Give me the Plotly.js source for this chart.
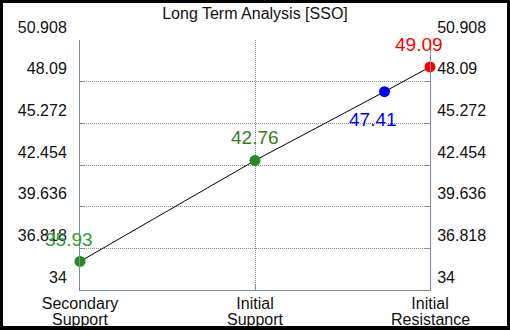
<!DOCTYPE html>
<html>
<head>
<meta charset="utf-8">
<script src="https://cdn.plot.ly/plotly-3.0.1.min.js"></script>
<style>
  html, body { margin: 0; padding: 0; background: #000; width: 510px; height: 330px; overflow: hidden; }
  #chart { position: absolute; left: 3px; top: 3px; width: 504px; height: 323px; background: #fff; }
</style>
</head>
<body>
<div id="chart"></div>
<script>
const catLine1 = ['Secondary', 'Initial', 'Initial'];
const catLine2 = ['Support', 'Support', 'Resistance'];
const catPos = [0, 1, 2];
const pointX = [0, 1, 1.74, 2];
const pointY = [35.93, 42.76, 47.41, 49.09];
const pointLabels = ['35.93', '42.76', '47.41', '49.09'];
const markerColors = ['#228B22', '#228B22', '#0000FF', '#FF0000'];
const labelColors = ['#33a033', '#3b7d1e', '#0000FF', '#FF0000'];
const yTicks = [34, 36.818, 39.636, 42.454, 45.272, 48.09, 50.908];
const yTickText = ['34', '36.818', '39.636', '42.454', '45.272', '48.09', '50.908'];

const labelShift = [[-11, 22], [0, 23], [-12, -28], [-11, 22]];
const axisColor = '#7f8ca6';
const font = 'Liberation Sans, Arial, sans-serif';

const traces = [
  { x: pointX, y: pointY, mode: 'lines', line: { color: '#000', width: 1 }, hoverinfo: 'skip', showlegend: false, cliponaxis: false },
  { x: pointX, y: pointY, mode: 'markers', marker: { color: markerColors, size: 11 }, showlegend: false, cliponaxis: false },
  { x: pointX, y: pointY, yaxis: 'y2', mode: 'markers', marker: { opacity: 0 }, hoverinfo: 'skip', showlegend: false }
];

const annotations = [];
pointX.forEach((x, i) => {
  annotations.push({
    x: x, y: pointY[i], xref: 'x', yref: 'y', text: pointLabels[i], showarrow: false,
    xshift: labelShift[i][0], yshift: labelShift[i][1],
    font: { family: font, size: 19, color: labelColors[i] }
  });
});
catPos.forEach((x, i) => {
  annotations.push({
    x: x, y: 0, xref: 'x', yref: 'paper', yanchor: 'middle', text: catLine2[i], showarrow: false,
    yshift: -29, font: { family: font, size: 16, color: '#111' }
  });
});

const yCommon = {
  range: [34, 50.908], tickmode: 'array', tickvals: yTicks, ticktext: yTickText,
  showline: true, linecolor: axisColor, linewidth: 1,
  ticks: 'inside', ticklen: 5, tickcolor: axisColor,
  showgrid: true, gridcolor: axisColor, griddash: '1px,1px', gridwidth: 1,
  zeroline: false, ticklabelshift: -13,
  tickfont: { family: font, size: 16, color: '#111' }
};

const layout = {
  width: 504, height: 323,
  margin: { l: 77, r: 77, t: 37, b: 36, pad: 0 },
  paper_bgcolor: '#fff', plot_bgcolor: '#fff',
  title: { text: 'Long Term Analysis [SSO]', x: 0.5, xanchor: 'center', y: 0.995, yref: 'container', yanchor: 'top', pad: { t: 3 },
           font: { family: font, size: 16, color: '#111' } },
  xaxis: {
    range: [0, 2], tickmode: 'array', tickvals: catPos, ticktext: catLine1,
    showline: true, linecolor: axisColor, linewidth: 1,
    ticks: 'inside', ticklen: 5, tickcolor: axisColor,
    showgrid: true, gridcolor: axisColor, griddash: '1px,1px', zeroline: false,
    tickfont: { family: font, size: 16, color: '#111' }, ticklabelstandoff: -1
  },
  yaxis: Object.assign({}, yCommon, { side: 'left', ticklabelstandoff: 9 }),
  yaxis2: Object.assign({}, yCommon, { side: 'right', overlaying: 'y', showgrid: false, ticklabelstandoff: 3 }),
  annotations: annotations,
  showlegend: false
};

Plotly.newPlot('chart', traces, layout, { staticPlot: true, displayModeBar: false });
</script>
</body>
</html>
